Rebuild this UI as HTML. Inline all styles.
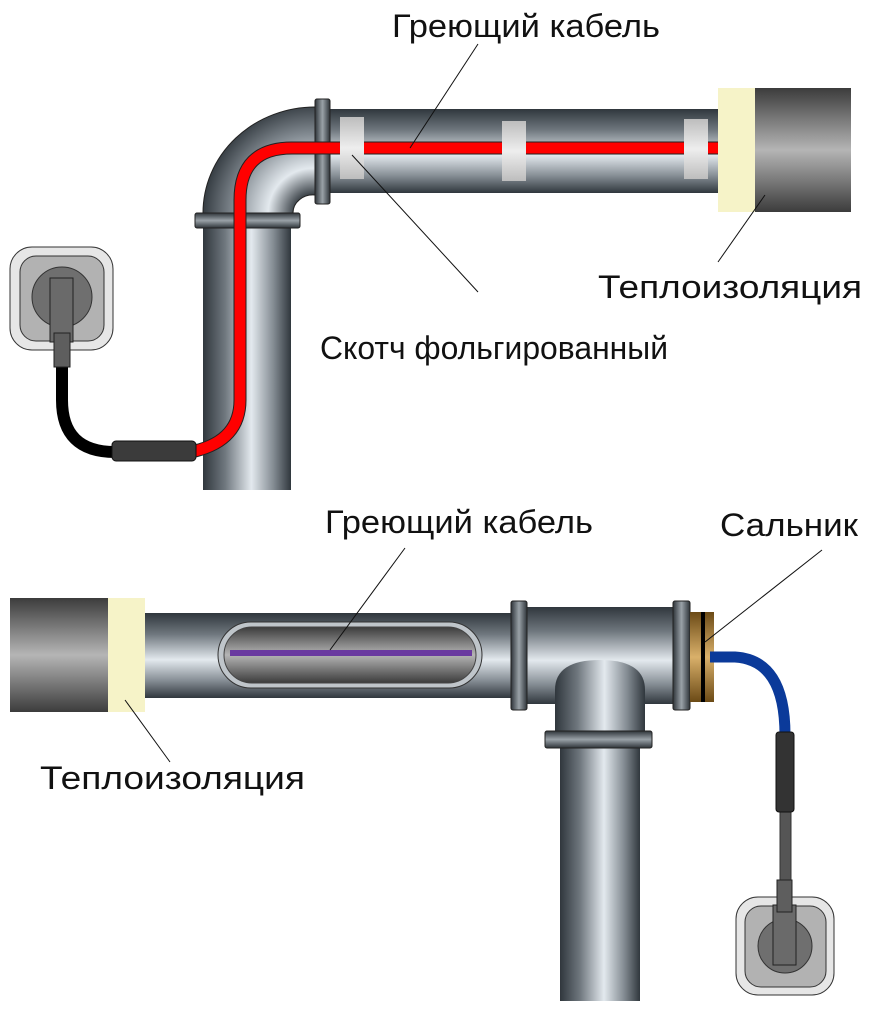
<!DOCTYPE html>
<html><head><meta charset="utf-8"><style>
html,body{margin:0;padding:0;background:#fff;}
svg{display:block;}
text{font-family:"Liberation Sans","DejaVu Sans",sans-serif;font-size:32px;fill:#111;}
</style></head><body>
<svg width="879" height="1021" viewBox="0 0 879 1021">
<defs>
<linearGradient id="gv" x1="0" y1="0" x2="0" y2="1">
<stop offset="0" stop-color="#30373d"/><stop offset="0.25" stop-color="#6f777e"/><stop offset="0.55" stop-color="#e3e9ee"/><stop offset="0.8" stop-color="#848c93"/><stop offset="1" stop-color="#30373d"/></linearGradient>
<linearGradient id="gh" x1="0" y1="0" x2="1" y2="0">
<stop offset="0" stop-color="#30373d"/><stop offset="0.25" stop-color="#6f777e"/><stop offset="0.55" stop-color="#e3e9ee"/><stop offset="0.8" stop-color="#848c93"/><stop offset="1" stop-color="#30373d"/></linearGradient>
<linearGradient id="fv" x1="0" y1="0" x2="0" y2="1">
<stop offset="0" stop-color="#2e3439"/><stop offset="0.5" stop-color="#9aa2a8"/><stop offset="1" stop-color="#2e3439"/></linearGradient>
<linearGradient id="fh" x1="0" y1="0" x2="1" y2="0">
<stop offset="0" stop-color="#2e3439"/><stop offset="0.5" stop-color="#9aa2a8"/><stop offset="1" stop-color="#2e3439"/></linearGradient>
<linearGradient id="ins" x1="0" y1="0" x2="0" y2="1">
<stop offset="0" stop-color="#3c3c3c"/><stop offset="0.5" stop-color="#b5b5b5"/><stop offset="1" stop-color="#3c3c3c"/></linearGradient>
<linearGradient id="tape" x1="0" y1="0" x2="0" y2="1">
<stop offset="0" stop-color="#bdbdbd"/><stop offset="0.5" stop-color="#eeeeee"/><stop offset="1" stop-color="#bdbdbd"/></linearGradient>
<linearGradient id="brass" x1="0" y1="0" x2="0" y2="1">
<stop offset="0" stop-color="#6b4a16"/><stop offset="0.5" stop-color="#d9b06a"/><stop offset="1" stop-color="#6b4a16"/></linearGradient>
<radialGradient id="elb" cx="313" cy="213" r="112" gradientUnits="userSpaceOnUse">
<stop offset="0.15" stop-color="#30373d"/><stop offset="0.4" stop-color="#e3e9ee"/><stop offset="0.7" stop-color="#848c93"/><stop offset="1" stop-color="#30373d"/></radialGradient>
</defs>

<!-- TOP: vertical pipe -->
<rect x="203" y="226" width="88" height="264" fill="url(#gh)"/>
<path d="M315 107 A112 106 0 0 0 203 213 L293 213 A20 18 0 0 1 315 195 Z" fill="url(#elb)" stroke="#222" stroke-width="1"/>
<rect x="325" y="109" width="400" height="84" fill="url(#gv)"/>
<rect x="315" y="99" width="15" height="105" rx="2" fill="url(#fh)" stroke="#222"/>
<rect x="195" y="213" width="105" height="15" rx="2" fill="url(#fv)" stroke="#222"/>
<!-- red cable -->
<path d="M195 451 Q240 440 240 400 L240 200 Q240 148 292 148 L720 148" fill="none" stroke="#222" stroke-width="13"/>
<path d="M195 451 Q240 440 240 400 L240 200 Q240 148 292 148 L720 148" fill="none" stroke="#f00" stroke-width="11"/>
<rect x="340" y="117" width="24" height="62" fill="url(#tape)"/>
<rect x="502" y="121" width="24" height="60" fill="url(#tape)"/>
<rect x="684" y="119" width="24" height="60" fill="url(#tape)"/>
<rect x="718" y="88" width="40" height="124" fill="#f6f3c8"/>
<rect x="755" y="88" width="96" height="124" fill="url(#ins)"/>
<!-- socket top-left -->
<rect x="10" y="247" width="103" height="103" rx="22" fill="#e6e6e6" stroke="#333"/>
<rect x="20" y="256" width="84" height="85" rx="16" fill="#b2b2b2" stroke="#333"/>
<circle cx="62" cy="297" r="30" fill="#6f6f6f" stroke="#333"/>
<path d="M62 365 L62 400 Q62 452 115 452" fill="none" stroke="#000" stroke-width="12"/>
<rect x="50" y="278" width="23" height="64" fill="#6a6a6a" stroke="#222"/>
<rect x="54" y="333" width="16" height="34" fill="#5e5e5e" stroke="#222"/>
<rect x="112" y="441" width="84" height="20" rx="4" fill="#3b3b3b" stroke="#111"/>

<text x="392" y="37" textLength="268" lengthAdjust="spacingAndGlyphs">Греющий кабель</text>
<line x1="478" y1="44" x2="410" y2="148" stroke="#111"/>
<text x="598" y="298" textLength="264" lengthAdjust="spacingAndGlyphs">Теплоизоляция</text>
<line x1="765" y1="195" x2="718" y2="262" stroke="#111"/>
<text x="320" y="359" textLength="348" lengthAdjust="spacingAndGlyphs">Скотч фольгированный</text>
<line x1="352" y1="155" x2="478" y2="292" stroke="#111"/>

<!-- BOTTOM -->
<rect x="560" y="745" width="80" height="256" fill="url(#gh)"/>
<rect x="140" y="613" width="380" height="85" fill="url(#gv)"/>
<rect x="527" y="607" width="150" height="97" fill="url(#gv)"/>
<path d="M555 735 L555 690 Q555 660 600 660 Q645 660 645 690 L645 735 Z" fill="url(#gh)"/>
<rect x="545" y="731" width="107" height="17" rx="2" fill="url(#fv)" stroke="#222"/>
<rect x="511" y="601" width="16" height="109" rx="2" fill="url(#fh)" stroke="#222"/>
<rect x="673" y="601" width="17" height="109" rx="2" fill="url(#fh)" stroke="#222"/>
<rect x="690" y="612" width="24" height="90" fill="url(#brass)"/>
<rect x="701" y="612" width="4" height="90" fill="#000"/>
<rect x="218" y="622" width="264" height="66" rx="33" fill="#bfc5ca" stroke="#333"/>
<rect x="224" y="627" width="252" height="56" rx="28" fill="url(#ins)" stroke="#444"/>
<line x1="230" y1="653" x2="472" y2="653" stroke="#6a3aa0" stroke-width="6"/>
<rect x="10" y="598" width="100" height="114" fill="url(#ins)"/>
<rect x="108" y="598" width="37" height="114" fill="#f6f3c8"/>
<path d="M710 657 L735 657 Q785 660 785 735" fill="none" stroke="#0b3a9a" stroke-width="11"/>
<rect x="780" y="810" width="11" height="72" fill="#555" stroke="#333"/>
<rect x="776" y="732" width="18" height="80" rx="3" fill="#333" stroke="#111"/>
<rect x="736" y="897" width="98" height="98" rx="22" fill="#e6e6e6" stroke="#333"/>
<rect x="745" y="906" width="81" height="81" rx="16" fill="#b2b2b2" stroke="#333"/>
<circle cx="785" cy="946" r="27" fill="#6f6f6f" stroke="#333"/>
<rect x="773" y="905" width="23" height="60" fill="#6a6a6a" stroke="#222"/>
<rect x="777" y="880" width="15" height="32" fill="#5e5e5e" stroke="#222"/>

<text x="325" y="533" textLength="268" lengthAdjust="spacingAndGlyphs">Греющий кабель</text>
<line x1="405" y1="548" x2="330" y2="650" stroke="#111"/>
<text x="720" y="536" textLength="138" lengthAdjust="spacingAndGlyphs">Сальник</text>
<line x1="822" y1="550" x2="705" y2="642" stroke="#111"/>
<text x="40" y="789" textLength="265" lengthAdjust="spacingAndGlyphs">Теплоизоляция</text>
<line x1="125" y1="700" x2="170" y2="762" stroke="#111"/>
</svg>
</body></html>
